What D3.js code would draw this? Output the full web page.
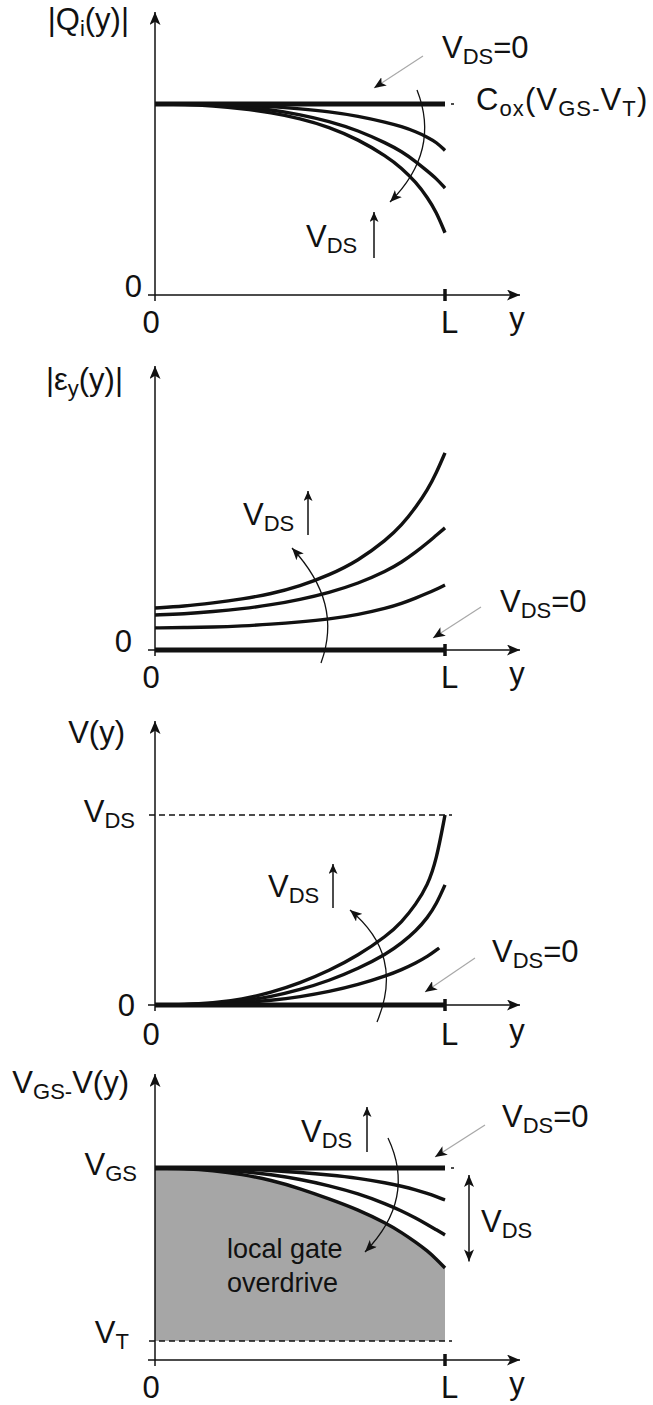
<!DOCTYPE html>
<html>
<head>
<meta charset="utf-8">
<script src="https://cdn.jsdelivr.net/npm/d3@7/dist/d3.min.js"></script>
<style>
  html, body { margin: 0; padding: 0; background: #fff; }
  text { font-family: "Liberation Sans", Arial, Helvetica, sans-serif; fill: #111; }
</style>
</head>
<body>
<svg id="chart" width="653" height="1405"></svg>
<script>
// Position along the channel, in units of L
const pos = [0, 0.1, 0.2, 0.3, 0.4, 0.5, 0.6, 0.7, 0.8, 0.85, 0.9, 0.94, 0.97, 1.0];

// |Qi(y)| normalised to Cox(VGS-VT), for increasing VDS
const qiZero = [1, 1, 1, 1, 1, 1, 1, 1, 1, 1, 1, 1, 1, 1];
const qiLow  = [1, 1, 0.998, 0.994, 0.987, 0.975, 0.96, 0.937, 0.903, 0.882, 0.855, 0.826, 0.8, 0.757];
const qiMid  = [1, 0.999, 0.995, 0.986, 0.97, 0.945, 0.91, 0.862, 0.793, 0.752, 0.698, 0.648, 0.61, 0.56];
const qiHigh = [1, 0.998, 0.99, 0.976, 0.955, 0.925, 0.88, 0.815, 0.725, 0.665, 0.59, 0.51, 0.435, 0.326];

// |Ey(y)| lateral field (arbitrary units)
const efZero = [0, 0, 0, 0, 0, 0, 0, 0, 0, 0, 0, 0, 0, 0];
const efLow  = [0.079, 0.08, 0.082, 0.086, 0.092, 0.1, 0.11, 0.126, 0.15, 0.166, 0.186, 0.203, 0.217, 0.232];
const efMid  = [0.125, 0.129, 0.137, 0.147, 0.161, 0.18, 0.205, 0.237, 0.283, 0.313, 0.35, 0.383, 0.41, 0.436];
const efHigh = [0.15, 0.156, 0.168, 0.182, 0.2, 0.228, 0.267, 0.318, 0.395, 0.445, 0.51, 0.572, 0.632, 0.704];

// V(y) channel potential, normalised to the largest VDS
const vPosLow = [0, 0.1, 0.2, 0.3, 0.4, 0.5, 0.6, 0.7, 0.8, 0.85, 0.9, 0.94, 0.98];
const vZero = [0, 0, 0, 0, 0, 0, 0, 0, 0, 0, 0, 0, 0, 0];
const vLow  = [0, 0.001, 0.004, 0.011, 0.024, 0.043, 0.07, 0.106, 0.155, 0.185, 0.222, 0.255, 0.3];
const vMid  = [0, 0.001, 0.007, 0.02, 0.043, 0.08, 0.128, 0.19, 0.27, 0.325, 0.39, 0.46, 0.53, 0.632];
const vHigh = [0, 0.001, 0.01, 0.03, 0.065, 0.115, 0.18, 0.26, 0.365, 0.435, 0.53, 0.63, 0.76, 1.0];

// VGS - V(y), with VT = 0 and VGS = 1
const odZero = [1, 1, 1, 1, 1, 1, 1, 1, 1, 1, 1, 1, 1, 1];
const odLow  = [1, 1, 0.998, 0.994, 0.986, 0.974, 0.96, 0.942, 0.913, 0.895, 0.874, 0.853, 0.835, 0.815];
const odMid  = [1, 0.999, 0.993, 0.981, 0.962, 0.935, 0.898, 0.853, 0.79, 0.752, 0.71, 0.672, 0.643, 0.613];
const odHigh = [1, 0.997, 0.986, 0.964, 0.93, 0.882, 0.822, 0.76, 0.678, 0.628, 0.57, 0.52, 0.474, 0.422];

// Axis tick labels
const xTickLabels = ["0", "L"];
const xAxisTitle = "y";

const MAIN = 31, SUB = 22, SUBDY = 6;

const svg = d3.select("#chart");
svg.append("rect").attr("width", 653).attr("height", 1405).attr("fill", "#fff");

// Arrowheads
const defs = svg.append("defs");
function marker(id, len, wid, color) {
  defs.append("marker")
    .attr("id", id)
    .attr("viewBox", `0 0 ${len} ${wid}`)
    .attr("refX", len).attr("refY", wid / 2)
    .attr("markerWidth", len).attr("markerHeight", wid)
    .attr("markerUnits", "userSpaceOnUse")
    .attr("orient", "auto-start-reverse")
    .append("path")
    .attr("d", `M0,0 L${len},${wid / 2} L0,${wid} L${len * 0.25},${wid / 2} Z`)
    .attr("fill", color);
}
marker("axisHead", 13, 11, "#111");
marker("head", 12, 10, "#111");
marker("smallHead", 10, 9, "#111");

// Rich text with subscripts: "V_{DS}=0"
function rich(g, x, y, str, anchor, spacing) {
  const t = g.append("text").attr("x", x).attr("y", y)
    .attr("text-anchor", anchor || "start")
    .style("font-size", MAIN + "px");
  if (spacing) t.style("letter-spacing", spacing + "px");
  const parts = [];
  const re = /_\{([^}]*)\}/g;
  let last = 0, m;
  while ((m = re.exec(str)) !== null) {
    if (m.index > last) parts.push({ t: str.slice(last, m.index), sub: false });
    parts.push({ t: m[1], sub: true });
    last = re.lastIndex;
  }
  if (last < str.length) parts.push({ t: str.slice(last), sub: false });
  let shifted = false;
  parts.forEach(p => {
    const dy = p.sub ? (shifted ? 0 : SUBDY) : (shifted ? -SUBDY : 0);
    t.append("tspan").attr("dy", dy).style("font-size", (p.sub ? SUB : MAIN) + "px").text(p.t);
    shifted = p.sub;
  });
  return t;
}

const x = d3.scaleLinear().domain([0, 1]).range([155, 445]);

function panel(cfg) {
  const g = svg.append("g");
  const y = d3.scaleLinear().domain([0, 1]).range(cfg.range);
  const base = cfg.axisY;

  if (cfg.fill) {
    g.append("path")
      .datum(cfg.fill)
      .attr("fill", "#a6a6a6")
      .attr("d", d3.area().x((d, i) => x(pos[i])).y0(y(0)).y1(d => y(d)).curve(d3.curveBasis));
  }

  // dashed reference levels
  (cfg.dashed || []).forEach(v => {
    g.append("line")
      .attr("x1", x(0) - 6).attr("x2", x(1) + 7)
      .attr("y1", y(v)).attr("y2", y(v))
      .attr("stroke", "#111").attr("stroke-width", 1.5)
      .attr("stroke-dasharray", "6,4");
  });

  // axes
  g.append("line")
    .attr("x1", x(0)).attr("x2", x(0))
    .attr("y1", base + 6).attr("y2", cfg.top)
    .attr("stroke", "#111").attr("stroke-width", 1.5)
    .attr("marker-end", "url(#axisHead)");
  g.append("line")
    .attr("x1", x(0) - 7).attr("x2", 520)
    .attr("y1", base).attr("y2", base)
    .attr("stroke", "#111").attr("stroke-width", 1.5)
    .attr("marker-end", "url(#axisHead)");
  g.append("line")
    .attr("x1", x(1)).attr("x2", x(1))
    .attr("y1", base - 6).attr("y2", base + 6)
    .attr("stroke", "#111").attr("stroke-width", 3.5);

  // tick labels along the channel
  g.append("text").attr("x", x(0) - 4).attr("y", base + cfg.tickDy)
    .attr("text-anchor", "middle").style("font-size", MAIN + "px").text(xTickLabels[0]);
  g.append("text").attr("x", x(1) - 4).attr("y", base + cfg.tickDy)
    .attr("text-anchor", "start").style("font-size", MAIN + "px").text(xTickLabels[1]);
  g.append("text").attr("x", 517).attr("y", base + cfg.tickDy - 4)
    .attr("text-anchor", "middle").style("font-size", MAIN + "px").text(xAxisTitle);

  // curves
  const line = (px) => d3.line().x((d, i) => x(px[i])).y(d => y(d)).curve(d3.curveBasis);
  cfg.series.forEach(s => {
    g.append("path").datum(s.values)
      .attr("fill", "none").attr("stroke", "#111")
      .attr("stroke-width", s.zero ? 4.8 : 3.4)
      .attr("stroke-linecap", "butt")
      .attr("d", line(s.pos || pos));
  });

  if (cfg.dotted != null) {
    g.append("line").attr("x1", x(1) + 6).attr("x2", x(1) + 9)
      .attr("y1", y(cfg.dotted)).attr("y2", y(cfg.dotted))
      .attr("stroke", "#111").attr("stroke-width", 1.5);
  }

  return { g, y };
}

// ---- Panel 1: inversion charge ----
const p1 = panel({
  range: [295, 104], axisY: 295, top: 12, tickDy: 38,
  series: [
    { values: qiLow }, { values: qiMid }, { values: qiHigh }, { values: qiZero, zero: true }
  ],
  dotted: 1
});
rich(p1.g, 129, 30, "|Q_{i}(y)|", "end");
p1.g.append("text").attr("x", 142).attr("y", 297).attr("text-anchor", "end").style("font-size", MAIN + "px").text("0");
rich(p1.g, 476, 110, "C_{ox}(V_{GS-}V_{T})", "start", 1.1);

// ---- Panel 2: lateral field ----
const p2 = panel({
  range: [650, 370], axisY: 650, top: 366, tickDy: 38,
  series: [
    { values: efLow }, { values: efMid }, { values: efHigh }, { values: efZero, zero: true }
  ]
});
rich(p2.g, 123, 390, "|ε_{y}(y)|", "end");
p2.g.append("text").attr("x", 132).attr("y", 652).attr("text-anchor", "end").style("font-size", MAIN + "px").text("0");

// ---- Panel 3: channel potential ----
const p3 = panel({
  range: [1005, 815], axisY: 1005, top: 721, tickDy: 40,
  dashed: [1],
  series: [
    { values: vLow, pos: vPosLow }, { values: vMid }, { values: vHigh }, { values: vZero, zero: true }
  ]
});
rich(p3.g, 125, 743, "V(y)", "end");
rich(p3.g, 135, 822, "V_{DS}", "end");
p3.g.append("text").attr("x", 135).attr("y", 1016).attr("text-anchor", "end").style("font-size", MAIN + "px").text("0");

// ---- Panel 4: local gate overdrive ----
const p4 = panel({
  range: [1341, 1168], axisY: 1360, top: 1074, tickDy: 38,
  fill: odHigh,
  dashed: [0],
  series: [
    { values: odLow }, { values: odMid }, { values: odHigh }, { values: odZero, zero: true }
  ],
  dotted: 1
});
rich(p4.g, 129, 1093, "V_{GS-}V(y)", "end");
rich(p4.g, 137, 1175, "V_{GS}", "end");
rich(p4.g, 129, 1343, "V_{T}", "end");
p4.g.append("text").attr("x", 227).attr("y", 1258).style("font-size", "27px").text("local gate");
p4.g.append("text").attr("x", 227).attr("y", 1292).style("font-size", "27px").text("overdrive");

// VDS drop across the channel
p4.g.append("line")
  .attr("x1", 469).attr("x2", 469)
  .attr("y1", p4.y(0.96)).attr("y2", p4.y(0.46))
  .attr("stroke", "#111").attr("stroke-width", 1.5)
  .attr("marker-start", "url(#head)").attr("marker-end", "url(#head)");
rich(p4.g, 481, 1232, "V_{DS}", "start");

// ---- Annotations: "VDS=0" pointers, curved trend arrows, "VDS ↑" ----
const notes = [
  { g: p1.g, label: [442, 58], ptr: [423, 56, 374, 88],
    arc: "M417,90 C432,128 426,166 390,202", up: [306, 247, 374, 258, 212] },
  { g: p2.g, label: [500, 612], ptr: [481, 607, 433, 638],
    arc: "M321,663 C336,622 326,585 292,548", up: [243, 525, 308, 535, 491] },
  { g: p3.g, label: [492, 962], ptr: [475, 958, 425, 992],
    arc: "M377,1022 C396,976 386,940 350,910", up: [268, 897, 333, 908, 864] },
  { g: p4.g, label: [502, 1127], ptr: [485, 1125, 435, 1157],
    arc: "M388,1138 C406,1176 401,1215 365,1252", up: [301, 1142, 367, 1152, 1107] }
];
notes.forEach(n => {
  rich(n.g, n.label[0], n.label[1], "V_{DS}=0", "start");
  n.g.append("line")
    .attr("x1", n.ptr[0]).attr("y1", n.ptr[1]).attr("x2", n.ptr[2]).attr("y2", n.ptr[3])
    .attr("stroke", "#a8a8a8").attr("stroke-width", 1.2)
    .attr("marker-end", "url(#head)");
  n.g.append("path").attr("d", n.arc)
    .attr("fill", "none").attr("stroke", "#111").attr("stroke-width", 1.3)
    .attr("marker-end", "url(#head)");
  rich(n.g, n.up[0], n.up[1], "V_{DS}", "start");
  n.g.append("line")
    .attr("x1", n.up[2]).attr("x2", n.up[2]).attr("y1", n.up[3]).attr("y2", n.up[4])
    .attr("stroke", "#111").attr("stroke-width", 1.5)
    .attr("marker-end", "url(#smallHead)");
});
</script>
</body>
</html>
